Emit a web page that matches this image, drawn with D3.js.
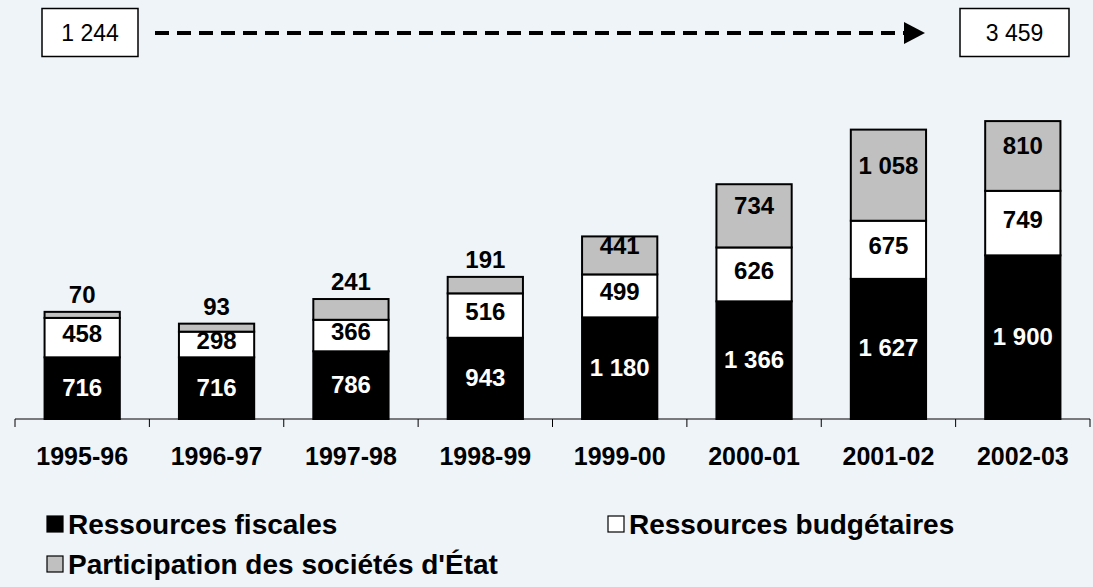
<!DOCTYPE html>
<html>
<head>
<meta charset="utf-8">
<script src="https://cdn.jsdelivr.net/npm/d3@7"></script>
<style>
  body { margin: 0; background: #eff4f9; }
  svg { display: block; font-family: Arial, "Liberation Sans", sans-serif; }
</style>
</head>
<body>
<div id="chart"></div>
<script>
const width = 1093;
const height = 587;

// Data
const years = ["1995-96", "1996-97", "1997-98", "1998-99", "1999-00", "2000-01", "2001-02", "2002-03"];
const fiscales = [716, 716, 786, 943, 1180, 1366, 1627, 1900];
const budgetaires = [458, 298, 366, 516, 499, 626, 675, 749];
const societes = [70, 93, 241, 191, 441, 734, 1058, 810];
const seriesNames = ["Ressources fiscales", "Ressources budgétaires", "Participation des sociétés d'État"];
const seriesFills = ["#000000", "#ffffff", "#c0c0c0"];
const startTotal = "1 244";
const endTotal = "3 459";

const fmt = v => d3.format(",")(v).replace(/,/g, " ");

const rows = years.map((y, i) => ({ year: y, fisc: fiscales[i], budg: budgetaires[i], soc: societes[i] }));
const stack = d3.stack().keys(["fisc", "budg", "soc"])(rows);

const svg = d3.select("#chart").append("svg")
    .attr("width", width)
    .attr("height", height);

svg.append("rect").attr("width", width).attr("height", height).attr("fill", "#eff4f9");

const x = d3.scaleBand().domain(years).range([15, 1090]);
const y = d3.scaleLinear().domain([0, 4000]).range([419, 74.5]);
const barW = x.bandwidth() * 0.56;

// bars
const layer = svg.append("g").selectAll("g")
  .data(stack)
  .join("g")
    .attr("fill", (d, i) => seriesFills[i]);

layer.selectAll("rect")
  .data(d => d)
  .join("rect")
    .attr("x", d => x(d.data.year) + (x.bandwidth() - barW) / 2)
    .attr("y", d => y(d[1]))
    .attr("width", barW)
    .attr("height", d => y(d[0]) - y(d[1]))
    .attr("stroke", "#000")
    .attr("stroke-width", 2);

// segment labels (Excel places them slightly above the middle)
const labelShift = [-1, -4, -10];
const labels = svg.append("g")
    .attr("text-anchor", "middle")
    .style("font-size", "24px")
    .style("font-weight", "bold");

stack.forEach((s, si) => {
  labels.selectAll(null)
    .data(s)
    .join("text")
      .attr("x", d => x(d.data.year) + x.bandwidth() / 2)
      .attr("y", d => {
        const h = y(d[0]) - y(d[1]);
        if (si === 2 && h < 25) return y(d[1]) - 17;
        return (y(d[0]) + y(d[1])) / 2 + labelShift[si];
      })
      .attr("dy", "0.35em")
      .attr("fill", si === 0 ? "#fff" : "#000")
      .text(d => fmt(d[1] - d[0]));
});

// axis
const axis = svg.append("g").attr("transform", "translate(0,419)");
axis.append("line").attr("x1", 15).attr("x2", 1090).attr("stroke", "#000").attr("stroke-width", 1);
axis.selectAll("line.tick")
  .data(years.concat([null]))
  .join("line")
    .attr("class", "tick")
    .attr("x1", (d, i) => 15 + i * x.step())
    .attr("x2", (d, i) => 15 + i * x.step())
    .attr("y1", 0).attr("y2", 8)
    .attr("stroke", "#000");
axis.selectAll("text")
  .data(years)
  .join("text")
    .attr("x", d => x(d) + x.bandwidth() / 2)
    .attr("y", 37)
    .attr("dy", "0.35em")
    .attr("text-anchor", "middle")
    .style("font-size", "25px")
    .style("font-weight", "bold")
    .text(d => d);

// top arrow with totals
const header = svg.append("g");
header.append("rect").attr("x", 42).attr("y", 8.5).attr("width", 96).attr("height", 48)
  .attr("fill", "#fff").attr("stroke", "#000").attr("stroke-width", 1.5);
header.append("text").attr("x", 90).attr("y", 33).attr("dy", "0.35em").attr("text-anchor", "middle")
  .style("font-size", "23px").text(startTotal);
header.append("rect").attr("x", 960).attr("y", 8.5).attr("width", 109).attr("height", 48)
  .attr("fill", "#fff").attr("stroke", "#000").attr("stroke-width", 1.5);
header.append("text").attr("x", 1014.5).attr("y", 33).attr("dy", "0.35em").attr("text-anchor", "middle")
  .style("font-size", "23px").text(endTotal);
header.append("line").attr("x1", 155).attr("x2", 905).attr("y1", 33).attr("y2", 33)
  .attr("stroke", "#000").attr("stroke-width", 4).attr("stroke-dasharray", "14 8");
header.append("path").attr("d", "M904,22 L925,33 L904,44 Z").attr("fill", "#000");

// legend
const legendPos = [[47, 524], [608, 524], [47, 564]];
const legend = svg.append("g").selectAll("g")
  .data(seriesNames)
  .join("g")
    .attr("transform", (d, i) => `translate(${legendPos[i][0]},${legendPos[i][1]})`);
legend.append("rect").attr("x", 0).attr("y", -8).attr("width", 16).attr("height", 16)
  .attr("fill", (d, i) => seriesFills[i]).attr("stroke", "#000").attr("stroke-width", 1.2);
legend.append("text").attr("x", 21).attr("dy", "0.36em")
  .style("font-size", "28px").style("font-weight", "bold").text(d => d);
</script>
</body>
</html>
